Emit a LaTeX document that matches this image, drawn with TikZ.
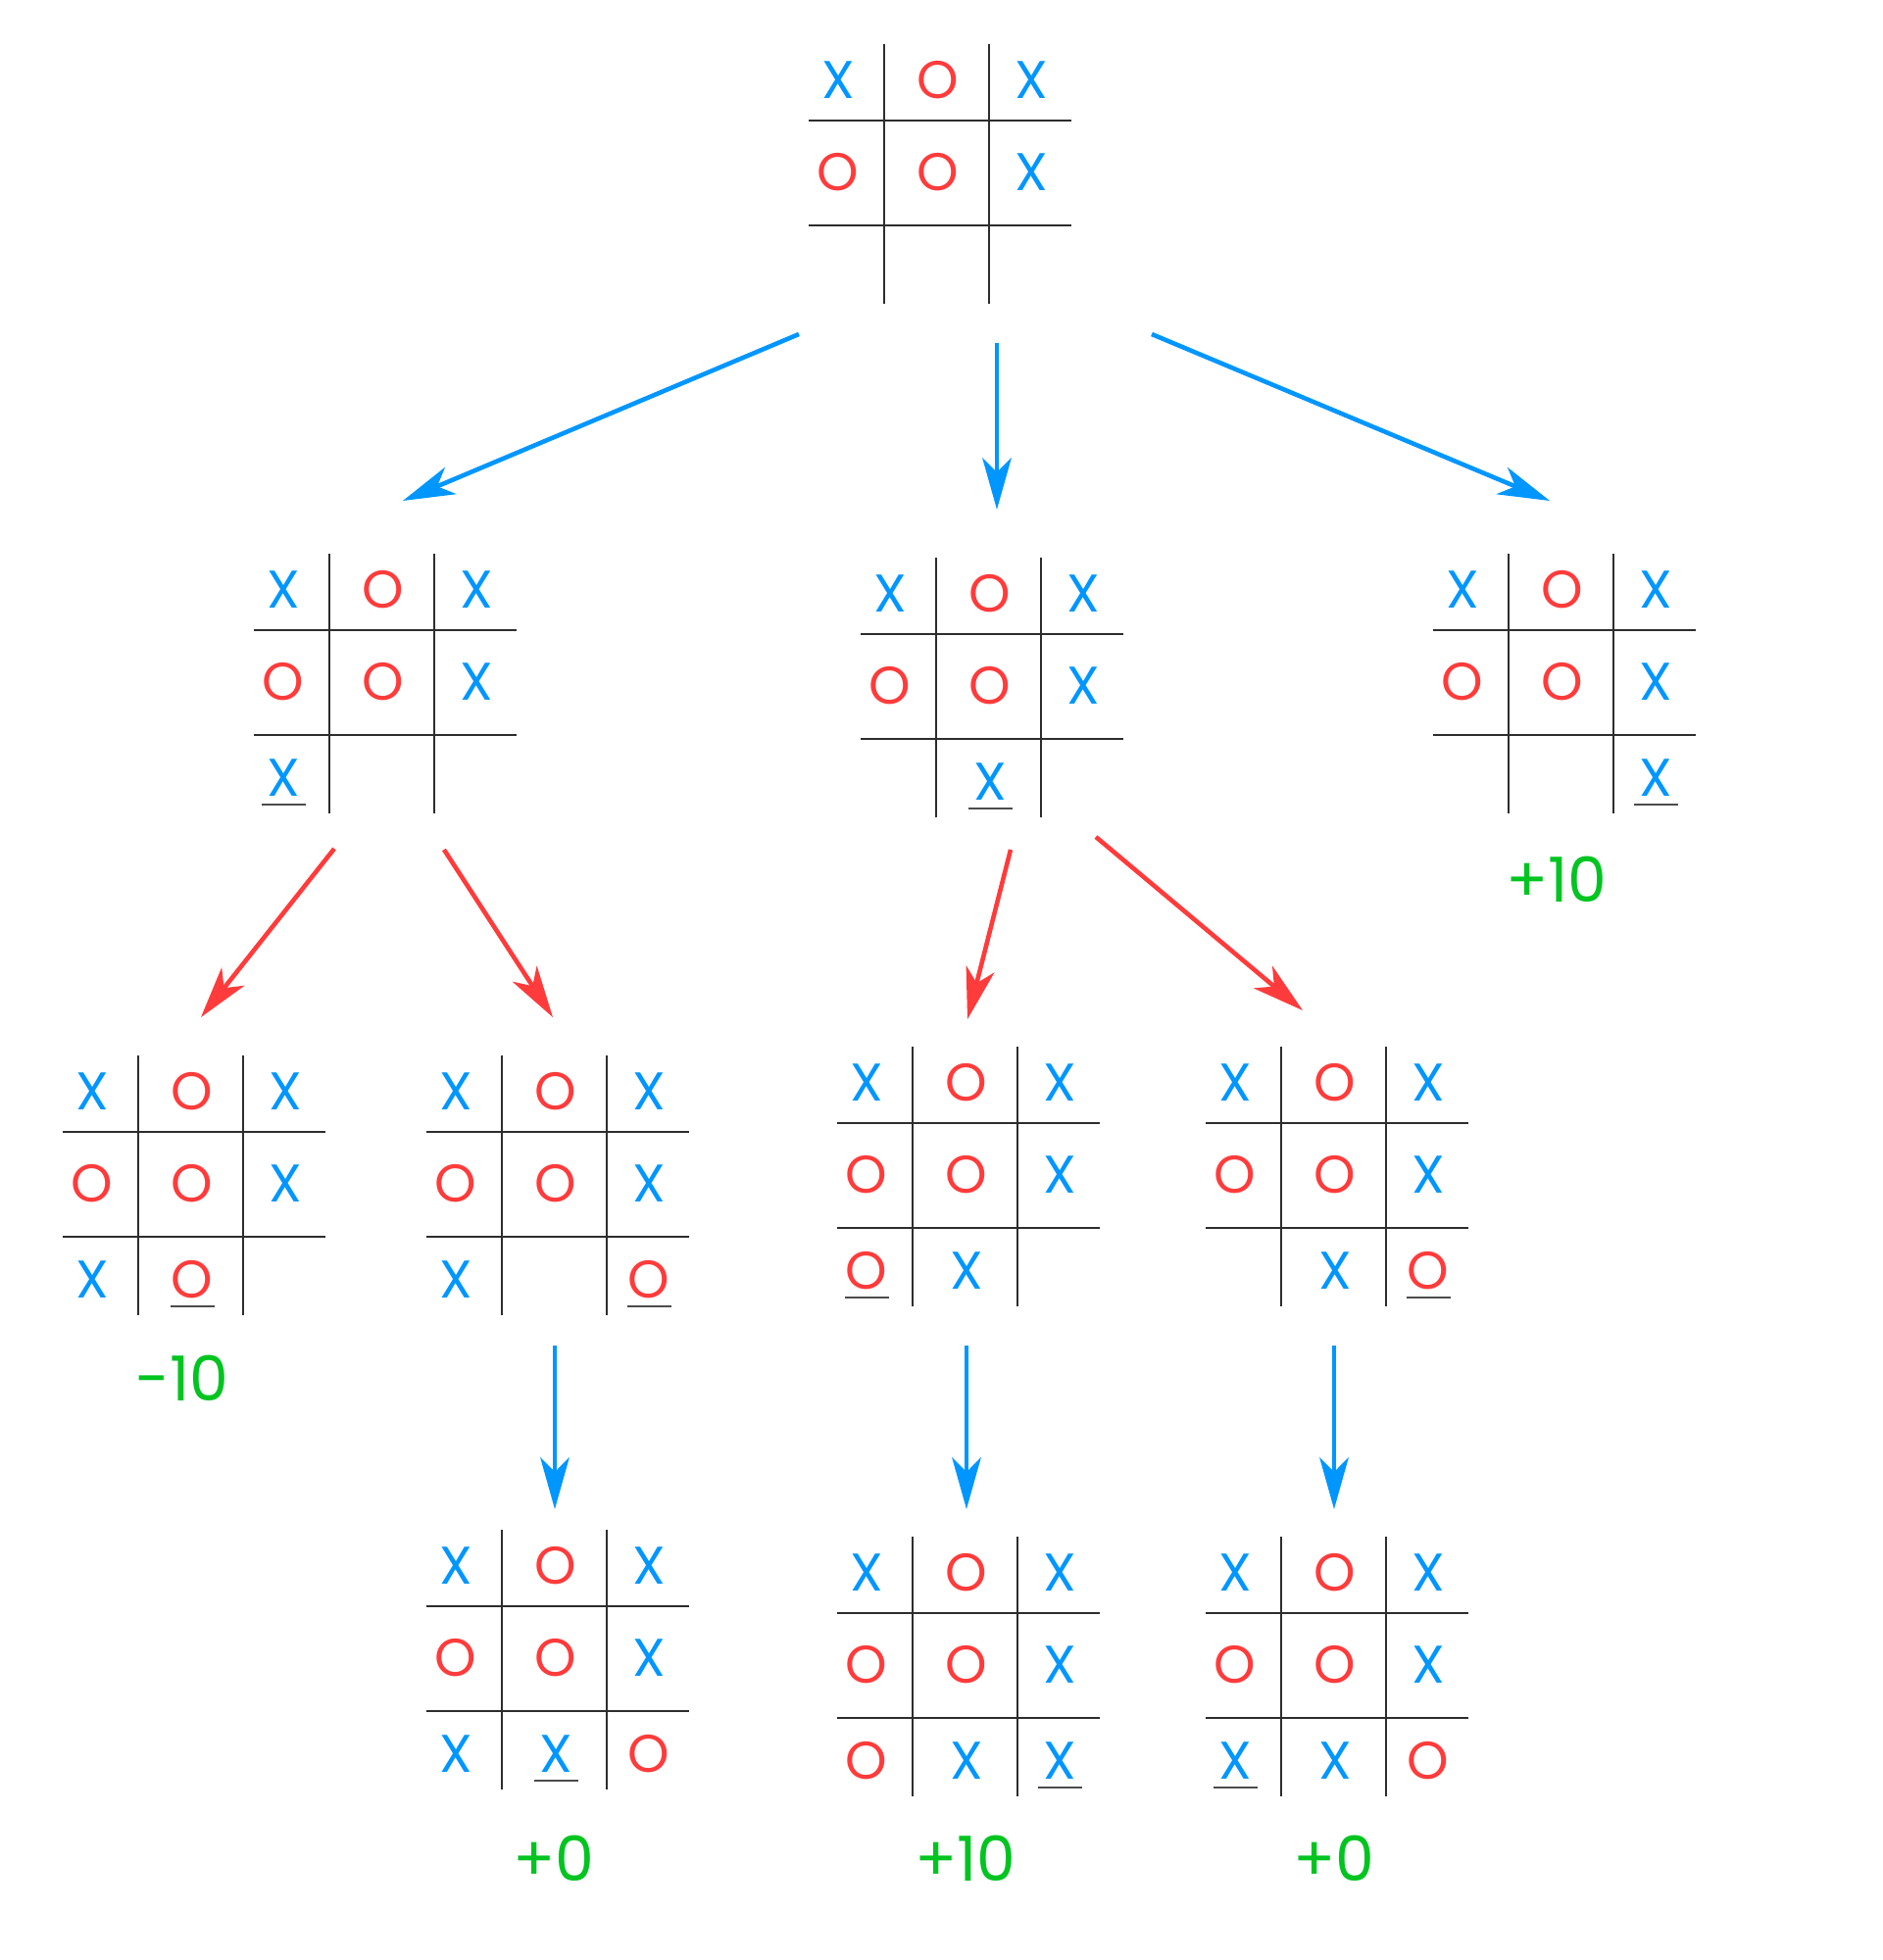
\documentclass[tikz,border=0pt]{standalone}
\usepackage{fontspec}
\setmainfont{Poppins}
\usepackage{tikz}
\usetikzlibrary{arrows.meta, calc}
\definecolor{myblue}{RGB}{0,150,255}
\definecolor{myred}{RGB}{255,59,59}
\definecolor{mygreen}{RGB}{0,196,32}
\definecolor{mydark}{RGB}{45,45,45}
\tikzset{
  gridline/.style={draw=mydark, line width=0.55pt},
  markX/.style={text=myblue, inner sep=0pt, font=\fontsize{15.4}{18}\selectfont},
  markO/.style={text=myred, inner sep=0pt, font=\fontsize{15.4}{18}\selectfont},
  lastline/.style={draw=mydark!85, line width=0.65pt},
  score/.style={text=mygreen, inner sep=0pt, font=\fontsize{18}{21}\selectfont},
  bluearrow/.style={-{Stealth[length=15pt, width=8.4pt, inset=4.2pt]},
    line width=1.3pt, draw=myblue},
  redarrow/.style={-{Stealth[length=15pt, width=8.4pt, inset=4.2pt]},
    line width=1.3pt, draw=myred}
}
% one mark in a cell: board, row, column, letter
\newcommand{\putmark}[4]{%
  \pgfmathsetmacro\mx{{-47,55,150}[#3-1]}%
  \pgfmathsetmacro\my{{-41,53,151}[#2-1]}%
  \node[mark#4] (#1-#2#3) at ($(#1)+(\mx,\my)$) {#4};}
% the move just played, underlined
\newcommand{\lastmove}[4]{%
  \putmark{#1}{#2}{#3}{#4}%
  \draw[lastline] ($(#1-#2#3)+(-22,27)$) -- ++(45,0);}
% grid and the two rows every board shares; (x,y) is the upper left crossing
\newcommand{\board}[3]{%
  \coordinate (#1) at (#2,#3);
  \draw[gridline] ($(#1)+(-77,0)$) -- ++(268,0) ($(#1)+(-77,107)$) -- ++(268,0)
                  ($(#1)+(0,-78)$) -- ++(0,265) ($(#1)+(107,-78)$) -- ++(0,265);
  \putmark{#1}{1}{1}{X}\putmark{#1}{1}{2}{O}\putmark{#1}{1}{3}{X}%
  \putmark{#1}{2}{1}{O}\putmark{#1}{2}{2}{O}\putmark{#1}{2}{3}{X}}

\begin{document}
\begin{tikzpicture}[x=0.01cm, y=-0.01cm]
  \useasboundingbox (0,0) rectangle (1920,2000);

  % root
  \board{root}{902}{123}

  % X to move
  \board{b1}{336}{643}
  \lastmove{b1}{3}{1}{X}
  \board{b2}{955}{647}
  \lastmove{b2}{3}{2}{X}
  \board{b3}{1539}{643}
  \lastmove{b3}{3}{3}{X}
  \node[score] (b3-score) at (1588,897) {+10};

  % O to move
  \board{b11}{141}{1155}
  \putmark{b11}{3}{1}{X}
  \lastmove{b11}{3}{2}{O}
  \node[score] (b11-score) at (186,1406) {-10};
  \board{b12}{512}{1155}
  \putmark{b12}{3}{1}{X}
  \lastmove{b12}{3}{3}{O}
  \board{b21}{931}{1146}
  \lastmove{b21}{3}{1}{O}
  \putmark{b21}{3}{2}{X}
  \board{b22}{1307}{1146}
  \putmark{b22}{3}{2}{X}
  \lastmove{b22}{3}{3}{O}

  % last X
  \board{b121}{512}{1639}
  \putmark{b121}{3}{1}{X}
  \lastmove{b121}{3}{2}{X}
  \putmark{b121}{3}{3}{O}
  \node[score] (b121-score) at (565,1896) {+0};
  \board{b211}{931}{1646}
  \putmark{b211}{3}{1}{O}
  \putmark{b211}{3}{2}{X}
  \lastmove{b211}{3}{3}{X}
  \node[score] (b211-score) at (985,1896) {+10};
  \board{b221}{1307}{1646}
  \lastmove{b221}{3}{1}{X}
  \putmark{b221}{3}{2}{X}
  \putmark{b221}{3}{3}{O}
  \node[score] (b221-score) at (1361,1896) {+0};

  % arrow ends
  \coordinate (root-b1-s) at (815,341);
  \coordinate (root-b1-e) at (411,511);
  \coordinate (root-b2-s) at (1017,350);
  \coordinate (root-b2-e) at (1017,520);
  \coordinate (root-b3-s) at (1175,341);
  \coordinate (root-b3-e) at (1581,511);
  \coordinate (b1-b11-s) at (341,866);
  \coordinate (b1-b11-e) at (205,1038);
  \coordinate (b1-b12-s) at (453,867);
  \coordinate (b1-b12-e) at (564,1038);
  \coordinate (b2-b21-s) at (1031,867);
  \coordinate (b2-b21-e) at (987,1040);
  \coordinate (b2-b22-s) at (1118,854);
  \coordinate (b2-b22-e) at (1329,1031);
  \coordinate (b12-b121-s) at (566,1373);
  \coordinate (b12-b121-e) at (566,1540);
  \coordinate (b21-b211-s) at (986,1373);
  \coordinate (b21-b211-e) at (986,1540);
  \coordinate (b22-b221-s) at (1361,1373);
  \coordinate (b22-b221-e) at (1361,1540);

  \draw[bluearrow] (root-b1-s) -- (root-b1-e);
  \draw[bluearrow] (root-b2-s) -- (root-b2-e);
  \draw[bluearrow] (root-b3-s) -- (root-b3-e);
  \draw[redarrow] (b1-b11-s) -- (b1-b11-e);
  \draw[redarrow] (b1-b12-s) -- (b1-b12-e);
  \draw[redarrow] (b2-b21-s) -- (b2-b21-e);
  \draw[redarrow] (b2-b22-s) -- (b2-b22-e);
  \draw[bluearrow] (b12-b121-s) -- (b12-b121-e);
  \draw[bluearrow] (b21-b211-s) -- (b21-b211-e);
  \draw[bluearrow] (b22-b221-s) -- (b22-b221-e);
\end{tikzpicture}
\end{document}
